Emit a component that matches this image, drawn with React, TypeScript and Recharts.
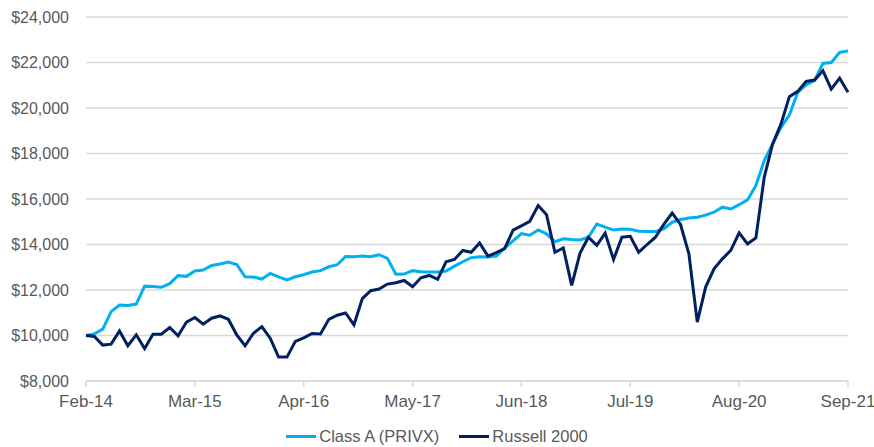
import React from 'react';
import { CartesianGrid, Line, LineChart, XAxis, YAxis } from 'recharts';

const MONTH_NAMES = ['Jan', 'Feb', 'Mar', 'Apr', 'May', 'Jun', 'Jul', 'Aug', 'Sep', 'Oct', 'Nov', 'Dec'];
const START_YEAR = 14;
const START_MONTH = 1; // Feb-14

// month-end growth of $10,000, Feb-14 .. Sep-21
const classA = [
  10000, 10070, 10280, 11050, 11340, 11320, 11380, 12170, 12150, 12120, 12280, 12630, 12600,
  12840, 12880, 13080, 13140, 13230, 13120, 12580, 12570, 12480, 12730, 12580, 12440, 12580,
  12670, 12790, 12850, 13020, 13110, 13475, 13460, 13490, 13460, 13550, 13390, 12690, 12700,
  12850, 12800, 12790, 12790, 12830, 13050, 13240, 13420, 13460, 13450, 13490, 13850, 14160,
  14480, 14410, 14640, 14470, 14120, 14250, 14220, 14200, 14320, 14900, 14760, 14640, 14680,
  14670, 14585, 14570, 14570, 14690, 14980, 15100, 15160, 15200, 15290, 15420, 15640, 15560,
  15750, 15960, 16590, 17690, 18420, 19150, 19690, 20690, 21020, 21200, 21960, 22000, 22440,
  22510,
];

const russell2000 = [
  10000, 9960, 9580, 9620, 10200, 9550, 10030, 9430, 10060, 10060, 10350, 9985, 10590,
  10790, 10500, 10760, 10860, 10715, 10030, 9550, 10100, 10390, 9880, 9050, 9050, 9740,
  9900, 10090, 10070, 10710, 10890, 10990, 10470, 11620, 11970, 12040, 12260, 12320, 12420,
  12140, 12540, 12640, 12470, 13240, 13340, 13740, 13660, 14070, 13490, 13640, 13820, 14630,
  14820, 15020, 15710, 15310, 13660, 13850, 12200, 13620, 14320, 13960, 14500, 13340, 14320,
  14360, 13660, 14000, 14320, 14880, 15380, 14880, 13590, 10590, 12130, 12930, 13370, 13740,
  14510, 14030, 14290, 16960, 18420, 19300, 20500, 20730, 21170, 21230, 21640, 20830, 21310,
  20690,
];

const X_TICKS = ['Feb-14', 'Mar-15', 'Apr-16', 'May-17', 'Jun-18', 'Jul-19', 'Aug-20', 'Sep-21'];
const Y_TICKS = [8000, 10000, 12000, 14000, 16000, 18000, 20000, 22000, 24000];

const data = classA.map((v, i) => {
  const m = START_MONTH + i;
  return {
    month: `${MONTH_NAMES[m % 12]}-${START_YEAR + Math.floor(m / 12)}`,
    classA: v,
    russell: russell2000[i],
  };
});

const LIGHT = '#00b0f0';
const DARK = '#002060';
const TEXT = '#595959';
const GRID = '#d9d9d9';
const FONT = '"Liberation Sans", Arial, sans-serif';

const fmt = (v: number) => '$' + v.toLocaleString('en-US');

const LegendItem = ({ color, label, gap }: { color: string; label: string; gap: number }) => (
  <div style={{ display: 'flex', alignItems: 'center', marginRight: gap }}>
    <div style={{ width: 30, height: 3, background: color, marginRight: 3 }} />
    <span>{label}</span>
  </div>
);

export default function App() {
  return (
    <div style={{ position: 'absolute', left: 0, top: 0, width: 874, height: 447, background: '#fff', fontFamily: FONT }}>
      <LineChart width={874} height={447} data={data} margin={{ top: 17, right: 26, bottom: 36, left: 0 }}>
        <CartesianGrid vertical={false} stroke={GRID} strokeWidth={1.5} />
        <XAxis
          dataKey="month"
          ticks={X_TICKS}
          interval={0}
          height={30}
          tickSize={6}
          tickMargin={8}
          axisLine={{ stroke: GRID, strokeWidth: 1.5 }}
          tickLine={{ stroke: GRID, strokeWidth: 1.5 }}
          tick={{ fill: TEXT, fontSize: 17, fontFamily: FONT }}
        />
        <YAxis
          domain={[8000, 24000]}
          ticks={Y_TICKS}
          width={86}
          axisLine={false}
          tickLine={false}
          tickSize={6}
          tickMargin={11}
          tickFormatter={fmt}
          tick={{ fill: TEXT, fontSize: 16, fontFamily: FONT }}
        />
        <Line type="linear" dataKey="classA" stroke={LIGHT} strokeWidth={3} dot={false} isAnimationActive={false} />
        <Line type="linear" dataKey="russell" stroke={DARK} strokeWidth={3} dot={false} isAnimationActive={false} />
      </LineChart>
      <div
        style={{
          position: 'absolute',
          left: 0,
          top: 426,
          width: 874,
          display: 'flex',
          justifyContent: 'center',
          fontSize: 16.5,
          color: TEXT,
          lineHeight: '20px',
        }}
      >
        <LegendItem color={LIGHT} label="Class A (PRIVX)" gap={20} />
        <LegendItem color={DARK} label="Russell 2000" gap={0} />
      </div>
    </div>
  );
}
